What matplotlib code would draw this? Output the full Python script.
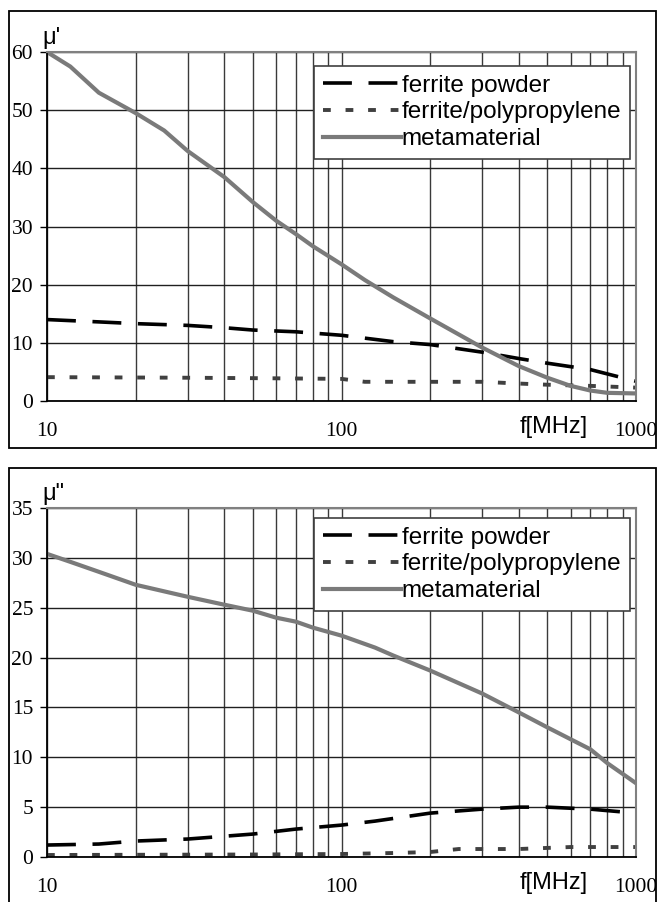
import matplotlib
matplotlib.use("Agg")
import matplotlib.pyplot as plt
from matplotlib.patches import Rectangle
import numpy as np

# frequency grid (MHz) and readings from the curves
f_meta1 = [10, 12, 15, 20, 25, 30, 40, 50, 60, 70, 80, 100, 120, 150, 200, 300, 400, 500, 600, 700, 800, 1000]
mu1_meta = [60, 57.5, 53, 49.5, 46.5, 43, 38.5, 34.2, 31, 28.7, 26.6, 23.5, 20.8, 17.8, 14.2, 9.2, 6.0, 4.0, 2.6, 1.8, 1.4, 1.3]
f_fp1 = [10, 15, 20, 30, 40, 50, 70, 100, 150, 200, 300, 400, 500, 700, 1000]
mu1_fp = [14, 13.6, 13.3, 13.0, 12.6, 12.2, 11.9, 11.3, 10.2, 9.7, 8.4, 7.3, 6.5, 5.4, 3.4]
f_pp1 = [10, 30, 60, 100, 120, 200, 300, 400, 500, 700, 1000]
mu1_pp = [4.1, 4.0, 3.9, 3.8, 3.3, 3.3, 3.3, 3.0, 2.8, 2.6, 2.3]

f_meta2 = [10, 12, 15, 20, 30, 40, 50, 60, 70, 80, 100, 130, 150, 200, 300, 400, 500, 700, 800, 1000]
mu2_meta = [30.4, 29.6, 28.6, 27.3, 26.1, 25.3, 24.7, 24.0, 23.6, 23.0, 22.2, 21.0, 20.2, 18.7, 16.4, 14.5, 13.0, 10.8, 9.4, 7.4]
f_fp2 = [10, 15, 20, 30, 50, 70, 100, 130, 200, 300, 400, 500, 700, 1000]
mu2_fp = [1.2, 1.3, 1.6, 1.8, 2.3, 2.8, 3.2, 3.6, 4.4, 4.8, 5.0, 5.0, 4.8, 4.4]
f_pp2 = [10, 50, 100, 150, 200, 250, 400, 600, 1000]
mu2_pp = [0.2, 0.25, 0.3, 0.4, 0.5, 0.8, 0.8, 1.0, 1.0]

labels = ["ferrite powder", "ferrite/polypropylene", "metamaterial"]

W, H = 657, 902
fig = plt.figure(figsize=(W / 100, H / 100), dpi=100)

def px(x0, y0, x1, y1):
    return [x0 / W, 1 - y1 / H, (x1 - x0) / W, (y1 - y0) / H]

sans = "Liberation Sans"
serif = "Liberation Serif"

def panel(rect, box, f_fp, v_fp, f_pp, v_pp, f_m, v_m, ymax, ystep, ylab, leg_xy):
    fig.patches.append(Rectangle((box[0] / W, 1 - box[3] / H), (box[2] - box[0]) / W,
                                 (box[3] - box[1]) / H, transform=fig.transFigure,
                                 fill=False, ec="black", lw=1.3))
    ax = fig.add_axes(px(*rect))
    ax.plot(f_fp, v_fp, color="black", lw=2.6, dashes=(8, 4.6), label=labels[0])
    ax.plot(f_pp, v_pp, color="#404040", lw=2.8, dashes=(2.0, 3.8), label=labels[1])
    ax.plot(f_m, v_m, color="#7a7a7a", lw=3.0, label=labels[2])
    ax.set_xscale("log")
    ax.set_xlim(10, 1000)
    ax.set_ylim(0, ymax)
    ax.set_yticks(np.arange(0, ymax + 1, ystep))
    ax.set_xticks([10, 100, 1000])
    ax.set_xticklabels(["10", "100", "1000"])
    ax.xaxis.set_minor_formatter(plt.NullFormatter())
    ax.grid(True, which="both", axis="x", color="#3a3a3a", lw=1.0)
    ax.grid(True, which="major", axis="y", color="#202020", lw=1.0)
    ax.tick_params(axis="x", which="both", length=0, pad=15, labelsize=15.5)
    ax.tick_params(axis="y", length=5, width=1, pad=5, labelsize=15.5)
    for t in ax.get_xticklabels() + ax.get_yticklabels():
        t.set_fontfamily(serif)
    for s in ["top", "right"]:
        ax.spines[s].set_color("#808080")
        ax.spines[s].set_linewidth(1.5)
    for s in ["left", "bottom"]:
        ax.spines[s].set_linewidth(1.3)
    ax.set_axisbelow(True)
    ax.text(-0.008, 1.008, ylab, transform=ax.transAxes, ha="left", va="bottom",
            fontsize=17, family=sans)
    ax.text(0.86, -0.075, "f[MHz]", transform=ax.transAxes, ha="center", va="center",
            fontsize=17, family=sans)
    leg = ax.legend(loc="upper right", bbox_to_anchor=(leg_xy[0] / W, 1 - leg_xy[1] / H),
                    bbox_transform=fig.transFigure, borderaxespad=0, fancybox=False,
                    framealpha=1, edgecolor="#404040", prop={"family": sans, "size": 17.5},
                    handlelength=3.2, handletextpad=0.05, labelspacing=0.2,
                    borderpad=0.35)
    leg.get_frame().set_linewidth(1.2)
    return ax

panel((47, 52, 636, 401), (9, 11, 656, 448), f_fp1, mu1_fp, f_pp1, mu1_pp,
      f_meta1, mu1_meta, 60, 10, "μ'", (630, 66))
panel((47, 508, 636, 857), (9, 468, 656, 910), f_fp2, mu2_fp, f_pp2, mu2_pp,
      f_meta2, mu2_meta, 35, 5, 'μ"', (630, 518))

fig.savefig("out.png", dpi=100)
